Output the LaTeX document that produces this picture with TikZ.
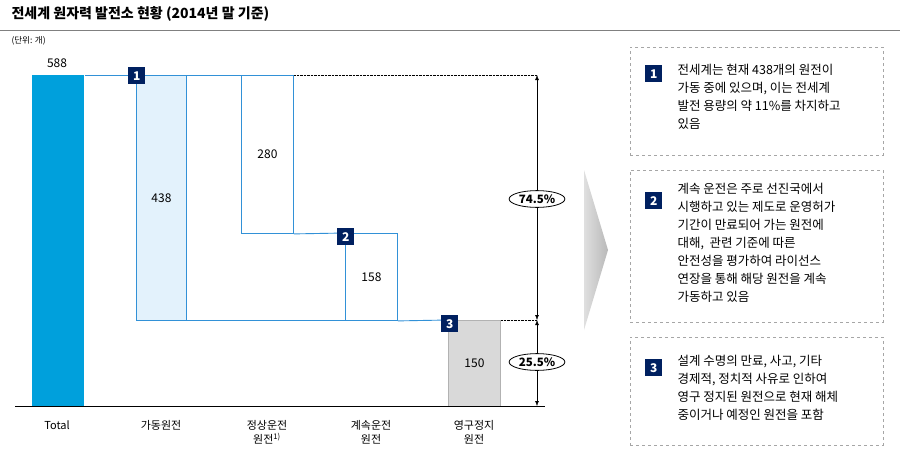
\documentclass[tikz,border=0pt]{standalone}
\usepackage{fontspec}
\setmainfont{Noto Sans CJK KR}
\usetikzlibrary{shapes.geometric,arrows.meta}
\definecolor{cy}{RGB}{0,160,220}
\definecolor{lb}{RGB}{227,242,252}
\definecolor{bd}{RGB}{50,145,215}
\definecolor{nv}{RGB}{0,32,96}
\definecolor{gf}{RGB}{217,217,217}
\tikzset{
 bar/.style={line width=0.9pt,anchor=north west,inner sep=0pt},
 num/.style={font=\fontsize{12}{14}\selectfont},
 badge/.style={fill=nv,text=white,minimum size=17pt,inner sep=0pt,font=\fontsize{12}{13}\selectfont\bfseries},
 lab/.style={font=\fontsize{11}{14}\selectfont,align=center,anchor=north},
 tbox/.style={draw=gray!70,dashed,anchor=north west,inner sep=0pt},
 txt/.style={font=\fontsize{12.5}{18}\selectfont,align=left,anchor=north west},
 pct/.style={ellipse,draw,thick,fill=white,inner sep=1.5pt,font=\fontsize{11.5}{13}\selectfont\bfseries}
}
\begin{document}
\begin{tikzpicture}[x=1pt,y=-1pt]
\useasboundingbox (0,0) rectangle (900,461);
\node[anchor=west,font=\fontsize{14}{16}\selectfont\bfseries] (title) at (8,14) {전세계 원자력 발전소 현황 (2014년 말 기준)};
\draw[gray,line width=0.8pt] (0,30) -- (900,30);
\node[anchor=west,font=\fontsize{8.5}{10}\selectfont] (unit) at (8,41) {(단위: 개)};
% bars
\node[bar,fill=cy,minimum width=52pt,minimum height=331pt] (b0) at (32,75) {};
\node[num] (n0) at (57,63) {588};
\node[bar,draw=bd,fill=lb,minimum width=50pt,minimum height=245pt] (b1) at (136,75) {};
\node[num] at (b1.center) {438};
\node[bar,draw=bd,fill=white,minimum width=52pt,minimum height=158pt] (b2) at (241,75) {};
\node[num] at (b2.center) {280};
\node[bar,draw=bd,fill=white,minimum width=52pt,minimum height=87pt] (b3) at (345,233) {};
\node[num] at (b3.center) {158};
\node[bar,fill=gf,draw=gray!60,minimum width=52pt,minimum height=86pt] (b4) at (448,320) {};
\node[num] at (b4.center) {150};
% connectors
\draw[bd,line width=0.9pt] (b0.north east) -- (b1.north west);
\draw[bd,line width=0.9pt] (b1.north east) -- (b2.north west);
\draw[bd,line width=0.9pt] (b2.south east) -- (b3.north west);
\draw[bd,line width=0.9pt] (b1.south east) -- (b3.south west);
\draw[bd,line width=0.9pt] (b3.south east) -- (b4.north west);
\coordinate (t1) at (537,75);
\coordinate (t2) at (537,320);
\coordinate (t3) at (537,406);
\draw[densely dotted] (b2.north east) -- (t1);
\draw[densely dotted] (b4.north east) -- (t2);
\draw[thick] (15,406) -- (545,406);
\draw[{Latex[length=5pt]}-{Latex[length=5pt]}] (t1) -- (t2);
\draw[{Latex[length=5pt]}-{Latex[length=5pt]}] (t2) -- (t3);
\node[pct] (p1) at (537,199) {74.5\%};
\node[pct] (p2) at (537,362) {25.5\%};
% badges
\node[badge,anchor=north west] (g1) at (128,67) {1};
\node[badge,anchor=north west] (g2) at (337,228) {2};
\node[badge,anchor=north west] (g3) at (441,315) {3};
% labels
\node[lab] (l0) at (57,417) {Total};
\node[lab] (l1) at (161,417) {가동원전};
\node[lab] (l2) at (267,417) {정상운전\\원전\textsuperscript{1)}};
\node[lab] (l3) at (371,417) {계속운전\\원전};
\node[lab] (l4) at (474,417) {영구정지\\원전};
% chevron
\shade[left color=gray!25,right color=gray!55] (584,170) -- (608,250) -- (584,330) -- cycle;
% text boxes
\node[tbox,minimum width=253pt,minimum height=108pt] (r1) at (630,47) {};
\node[tbox,minimum width=253pt,minimum height=152pt] (r2) at (630,170) {};
\node[tbox,minimum width=253pt,minimum height=108pt] (r3) at (630,337) {};
\node[badge,anchor=north west] (c1) at (645,65) {1};
\node[badge,anchor=north west] (c2) at (645,192) {2};
\node[badge,anchor=north west] (c3) at (645,359) {3};
\node[txt] (x1) at (674,61) {전세계는 현재 438개의 원전이\\가동 중에 있으며, 이는 전세계\\발전 용량의 약 11\%를 차지하고\\있음};
\node[txt] (x2) at (674,180) {계속 운전은 주로 선진국에서\\시행하고 있는 제도로 운영허가\\기간이 만료되어 가는 원전에\\대해,\ \ 관련 기준에 따른\\안전성을 평가하여 라이선스\\연장을 통해 해당 원전을 계속\\가동하고 있음};
\node[txt] (x3) at (674,352) {설계 수명의 만료, 사고, 기타\\경제적, 정치적 사유로 인하여\\영구 정지된 원전으로 현재 해체\\중이거나 예정인 원전을 포함};
\end{tikzpicture}
\end{document}
